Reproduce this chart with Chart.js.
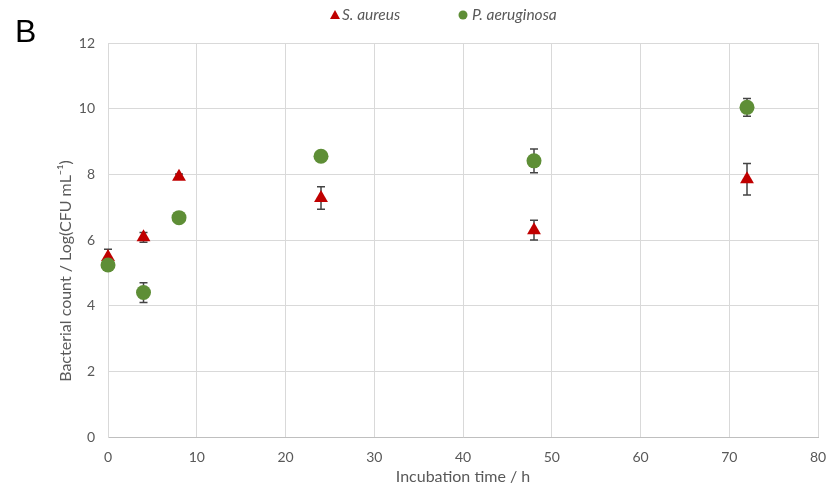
<!DOCTYPE html>
<html>
<head>
<meta charset="utf-8">
<script src="https://cdn.jsdelivr.net/npm/chart.js@4"></script>
<style>
  html, body { margin: 0; padding: 0; background: #ffffff; }
  #wrap { width: 832px; height: 491px; position: relative; }
</style>
</head>
<body>
<div id="wrap"><canvas id="c"></canvas></div>
<script>
// Incubation time points (h)
const times = [0, 4, 8, 24, 48, 72];

// S. aureus: mean log count and standard deviation
const saureusMean = [5.48, 6.08, 7.93, 7.28, 6.30, 7.85];
const saureusErr  = [0.24, 0.15, 0.08, 0.34, 0.30, 0.48];

// P. aeruginosa: mean log count and standard deviation
const paerugMean = [5.24, 4.40, 6.68, 8.55, 8.41, 10.04];
const paerugErr  = [0.10, 0.30, 0.06, 0.06, 0.36, 0.27];

// Axis ticks
const xTicks = [0, 10, 20, 30, 40, 50, 60, 70, 80];
const yTicks = [0, 2, 4, 6, 8, 10, 12];

const seriesNames = ['S. aureus', 'P. aeruginosa'];
const RED = '#C00000';
const GREEN = '#5E8E36';
const TEXT = '#595959';
const FONT = 'Lato, "Open Sans", sans-serif';

function toPoints(xs, ys) {
  return xs.map((x, i) => ({ x: x, y: ys[i] }));
}

// Error bars, legend, panel letter and y-axis title
const decorations = {
  id: 'decorations',
  beforeDatasetsDraw(chart) {
    const ctx = chart.ctx;
    const xs = chart.scales.x, ys = chart.scales.y;
    const sets = [
      { mean: saureusMean, err: saureusErr },
      { mean: paerugMean, err: paerugErr }
    ];
    ctx.save();
    ctx.strokeStyle = '#444444';
    ctx.lineWidth = 1.5;
    sets.forEach(s => {
      times.forEach((t, i) => {
        const px = xs.getPixelForValue(t);
        const top = ys.getPixelForValue(s.mean[i] + s.err[i]);
        const bot = ys.getPixelForValue(s.mean[i] - s.err[i]);
        ctx.beginPath();
        ctx.moveTo(px, top); ctx.lineTo(px, bot);
        ctx.moveTo(px - 4, top); ctx.lineTo(px + 4, top);
        ctx.moveTo(px - 4, bot); ctx.lineTo(px + 4, bot);
        ctx.stroke();
      });
    });
    ctx.restore();
  },
  afterDraw(chart) {
    const ctx = chart.ctx;
    ctx.save();
    // panel letter
    ctx.fillStyle = '#000000';
    ctx.font = '32px "Liberation Sans", Arial, sans-serif';
    ctx.textBaseline = 'alphabetic';
    ctx.textAlign = 'left';
    ctx.fillText('B', 15, 42);

    // y-axis title
    ctx.fillStyle = TEXT;
    ctx.font = '16px ' + FONT;
    ctx.translate(66, 271);
    ctx.rotate(-Math.PI / 2);
    ctx.textAlign = 'center';
    ctx.textBaseline = 'middle';
    ctx.fillText('Bacterial count / Log(CFU mL\u207B\u00B9)', 0, 0);
    ctx.restore();

    // legend
    ctx.save();
    ctx.font = 'italic 15.5px ' + FONT;
    ctx.textBaseline = 'middle';
    ctx.textAlign = 'left';
    const ly = 15;
    // triangle
    ctx.fillStyle = RED;
    ctx.beginPath();
    ctx.moveTo(335, ly - 5);
    ctx.lineTo(340, ly + 4);
    ctx.lineTo(330, ly + 4);
    ctx.closePath();
    ctx.fill();
    ctx.fillStyle = TEXT;
    ctx.fillText(seriesNames[0], 342, ly);
    // circle
    ctx.fillStyle = GREEN;
    ctx.beginPath();
    ctx.arc(463, ly, 4.5, 0, Math.PI * 2);
    ctx.fill();
    ctx.fillStyle = TEXT;
    ctx.fillText(seriesNames[1], 472, ly);
    ctx.restore();
  }
};

new Chart(document.getElementById('c'), {
  type: 'scatter',
  data: {
    datasets: [
      {
        label: seriesNames[0],
        data: toPoints(times, saureusMean),
        pointStyle: 'triangle',
        pointRadius: 8,
        pointHoverRadius: 8,
        backgroundColor: RED,
        borderColor: RED,
        borderWidth: 0,
        clip: false,
        order: 1
      },
      {
        label: seriesNames[1],
        data: toPoints(times, paerugMean),
        pointStyle: 'circle',
        pointRadius: 7.5,
        pointHoverRadius: 7.5,
        backgroundColor: GREEN,
        borderColor: GREEN,
        borderWidth: 0,
        clip: false,
        order: 0
      }
    ]
  },
  options: {
    responsive: true,
    maintainAspectRatio: false,
    animation: false,
    layout: { padding: { left: 0, right: 14, top: 43, bottom: 0 } },
    plugins: {
      legend: { display: false },
      tooltip: { enabled: false }
    },
    scales: {
      x: {
        type: 'linear',
        min: 0, max: 80,
        afterFit(scale) {
          scale.height = 54;
          scale.paddingLeft = 0;
          scale.paddingRight = 0;
        },
        afterBuildTicks(scale) { scale.ticks = xTicks.map(v => ({ value: v })); },
        ticks: { color: TEXT, font: { family: FONT, size: 14 }, padding: 12, maxRotation: 0 },
        grid: { color: '#d9d9d9', lineWidth: 1, drawTicks: false },
        border: { color: '#bfbfbf', width: 1 },
        title: {
          display: true,
          text: 'Incubation time / h',
          color: TEXT,
          font: { family: FONT, size: 16 },
          padding: { top: 0, bottom: 5 }
        }
      },
      y: {
        type: 'linear',
        min: 0, max: 12,
        afterFit(scale) {
          scale.width = 108;
          scale.paddingTop = 0;
          scale.paddingBottom = 0;
        },
        afterBuildTicks(scale) { scale.ticks = yTicks.map(v => ({ value: v })); },
        ticks: { color: TEXT, font: { family: FONT, size: 14 }, padding: 13 },
        grid: { color: '#d9d9d9', lineWidth: 1, drawTicks: false },
        border: { color: '#d9d9d9', width: 1 }
      }
    }
  },
  plugins: [decorations]
});
</script>
</body>
</html>
